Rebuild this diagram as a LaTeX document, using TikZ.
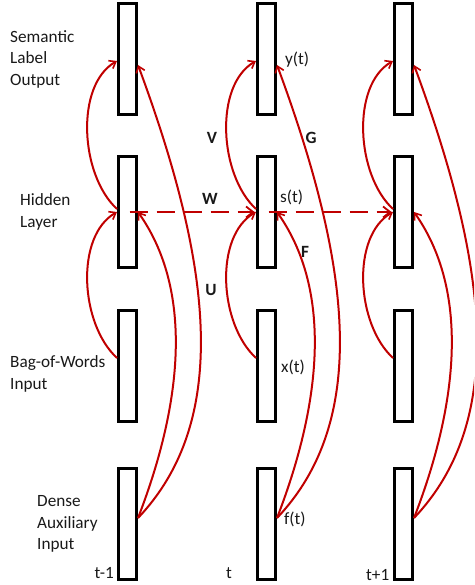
\documentclass[tikz,border=0pt]{standalone}
\usepackage{fontspec}
\setmainfont{Carlito}
\usetikzlibrary{arrows.meta}
\definecolor{arrred}{RGB}{192,0,0}
\definecolor{txt}{RGB}{25,25,25}
\tikzset{
  box/.style={draw=black, line width=3pt, fill=white, minimum width=18pt, minimum height=111pt, inner sep=0pt},
  conn/.style={draw=arrred, line width=2pt, -{Straight Barb[length=6pt,width=9pt,line width=1.6pt]}},
  wline/.style={draw=arrred, line width=2.5pt, dash pattern=on 18pt off 9pt, dash phase=-2pt, -{Straight Barb[length=7pt,width=11pt,line width=1.8pt]}},
  lbl/.style={font=\fontsize{17.2}{21.5}\selectfont, text=txt, inner sep=0pt, align=left},
  wlbl/.style={font=\fontsize{17.2}{21.5}\selectfont\bfseries, text=txt, inner sep=0pt}
}
\begin{document}
\begin{tikzpicture}[x=1pt,y=-1pt]
\useasboundingbox (0,0) rectangle (474,585);
\clip (0,0) rectangle (474,585);
% boxes
\foreach \c/\x in {1/127.5,2/266.5,3/403.5}{
  \node[box] (o\c) at (\x,59) {};
  \node[box] (h\c) at (\x,212) {};
  \node[box] (b\c) at (\x,366) {};
  \node[box] (d\c) at (\x,524) {};
}
% connectors
\foreach \c in {1,2,3}{
  \draw[conn] ([yshift=3pt]h\c.west) .. controls +(-37,-34) and +(-42,24) .. ([yshift=-2pt]o\c.west);
  \draw[conn] ([yshift=8pt]b\c.west) .. controls +(-37,-34) and +(-42,24) .. (h\c.west);
  \draw[conn] ([yshift=6pt]d\c.east) .. controls +(38,-98) and +(61,87) .. (h\c.east);
  \draw[conn] ([yshift=6pt]d\c.east) .. controls +(93,-98) and +(74,200) .. ([yshift=-6pt]o\c.east);
}
\draw[wline, shorten >=1.5pt] (h1.center) -- (h2.west);
\draw[wline, shorten >=1.5pt] (h2.center) -- (h3.west);
% left labels
\node[lbl, anchor=west] (lsem) at (10,59) {Semantic\\Label\\Output};
\node[lbl, anchor=west] (lhid) at (20,212) {Hidden\\Layer};
\node[lbl, anchor=west] (lbag) at (10,374) {Bag-of-Words\\Input};
\node[lbl, anchor=west] (lden) at (37,524) {Dense\\Auxiliary\\Input};
% time labels
\node[lbl, anchor=base east] (t1) at (114,578) {t-1};
\node[lbl, anchor=base west] (t2) at (226,578) {t};
\node[lbl, anchor=base west] (t3) at (366,580) {t+1};
% variable labels
\node[lbl, anchor=west] (yt) at (285,60) {y(t)};
\node[lbl, anchor=west] (st) at (280,197) {s(t)};
\node[lbl, anchor=west] (xt) at (281,367) {x(t)};
\node[lbl, anchor=west] (ft) at (284,519) {f(t)};
% matrix labels
\node[wlbl] (V) at (212,138) {V};
\node[wlbl] (G) at (311,138) {G};
\node[wlbl] (W) at (210,199) {W};
\node[wlbl] (F) at (305,252) {F};
\node[wlbl] (U) at (211,290) {U};
\end{tikzpicture}
\end{document}
